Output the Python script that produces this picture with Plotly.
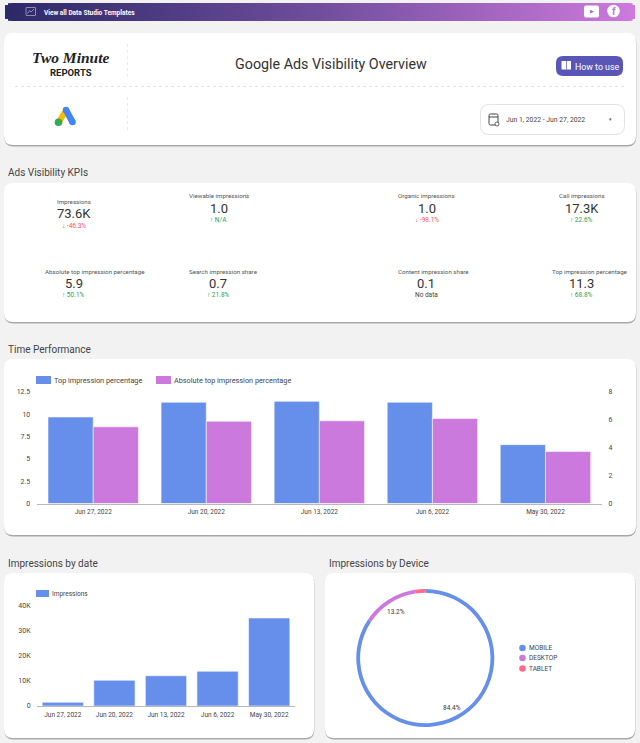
import math
import plotly.graph_objects as go

W, H = 640, 743

# ---------- data ----------
weeks = ["Jun 27, 2022", "Jun 20, 2022", "Jun 13, 2022", "Jun 6, 2022", "May 30, 2022"]
top_impression_pct = [9.7, 11.35, 11.45, 11.35, 6.6]
abs_top_impression_pct = [5.5, 5.9, 5.93, 6.1, 3.73]
impressions_by_week = [1500, 10300, 12100, 13900, 35200]
devices = ["MOBILE", "DESKTOP", "TABLET"]
device_share = [84.4, 13.2, 2.4]

kpi_names = ["Impressions", "Viewable impressions", "Organic impressions", "Call impressions",
             "Absolute top impression percentage", "Search impression share",
             "Content impression share", "Top impression percentage"]
kpi_values = ["73.6K", "1.0", "1.0", "17.3K", "5.9", "0.7", "0.1", "11.3"]
kpi_deltas = ["↓ -46.3%", "↑ N/A", "↓ -98.1%", "↑ 22.6%", "↑ 50.1%", "↑ 21.8%", "No data", "↑ 68.8%"]

left_ticks = [0, 2.5, 5, 7.5, 10, 12.5]
left_tick_text = ["0", "2.5", "5", "7.5", "10", "12.5"]
right_ticks = [0, 2, 4, 6, 8]
count_ticks = [0, 10000, 20000, 30000, 40000]
count_tick_text = ["0", "10K", "20K", "30K", "40K"]

# ---------- colours and fonts ----------
BLUE, PURPLE, PINK = "#668fec", "#cc79dd", "#ff6b8a"
RED, GREEN = "#f4506c", "#2f9e4f"
TXT = "#3c3c3c"
FONT = "Roboto"


def fx(x):
    return x / W


def fy(y):
    return 1 - y / H


shapes = []
notes = []


def rrect_path(x0, y0, x1, y1, r):
    a, b, c, d = fx(x0), fy(y0), fx(x1), fy(y1)
    rx, ry = r / W, r / H
    return (f"M{a + rx},{b} L{c - rx},{b} Q{c},{b} {c},{b - ry} L{c},{d + ry} Q{c},{d} {c - rx},{d} "
            f"L{a + rx},{d} Q{a},{d} {a},{d + ry} L{a},{b - ry} Q{a},{b} {a + rx},{b} Z")


def rrect(x0, y0, x1, y1, r, fill, line=None, lw=0):
    shapes.append(dict(type="path", xref="paper", yref="paper", path=rrect_path(x0, y0, x1, y1, r),
                       fillcolor=fill, line=dict(color=line or fill, width=lw), layer="below"))


def rect(x0, y0, x1, y1, fill, layer="below"):
    shapes.append(dict(type="rect", xref="paper", yref="paper", x0=fx(x0), x1=fx(x1), y0=fy(y0), y1=fy(y1),
                       fillcolor=fill, line=dict(width=0), layer=layer))


def circle(cx, cy, r, fill, line=None, lw=0, layer="below"):
    shapes.append(dict(type="circle", xref="paper", yref="paper", x0=fx(cx - r), x1=fx(cx + r),
                       y0=fy(cy + r), y1=fy(cy - r), fillcolor=fill,
                       line=dict(color=line or fill, width=lw), layer=layer))


def seg(x0, y0, x1, y1, color, lw=1, dash="solid"):
    shapes.append(dict(type="line", xref="paper", yref="paper", x0=fx(x0), x1=fx(x1), y0=fy(y0), y1=fy(y1),
                       line=dict(color=color, width=lw, dash=dash), layer="below"))


def text(x, y, s, size, color=TXT, anchor="center", font=FONT):
    notes.append(dict(xref="paper", yref="paper", x=fx(x), y=fy(y), text=s, showarrow=False,
                      xanchor=anchor, yanchor="middle", font=dict(family=font, size=size, color=color),
                      borderpad=0, borderwidth=0))


def card(x0, y0, x1, y1):
    rrect(x0 + 0.3, y0 + 1.5, x1 + 0.3, y1 + 1.5, 9, "#a9a9a9")
    rrect(x0, y0, x1, y1, 9, "#ffffff")


# ---------- banner with gradient ----------
stops = [(0.0, (44, 41, 104)), (0.5, (112, 78, 158)), (1.0, (207, 122, 222))]


def grad(t):
    for (t0, c0), (t1, c1) in zip(stops, stops[1:]):
        if t <= t1:
            k = (t - t0) / (t1 - t0)
            return "rgb(%d,%d,%d)" % tuple(round(a + (b - a) * k) for a, b in zip(c0, c1))
    return "rgb(207,122,222)"


bx0, bx1, by0, by1 = 5, 635, 3, 21
step, rad = 3, 6
x = bx0
while x < bx1:
    d = min(x + step / 2 - bx0, bx1 - x - step / 2)
    inset = rad - math.sqrt(max(rad ** 2 - (rad - d) ** 2, 0)) if d < rad else 0
    rect(x, by0 + inset, min(x + step + 0.6, bx1), by1 - inset, grad((x - bx0) / (bx1 - bx0)))
    x += step

rrect(26, 7.5, 35.5, 15.5, 0.5, "rgba(0,0,0,0)", "#cfcbe4", 0.6)
seg(27.5, 13.5, 29.5, 10.5, "#cfcbe4", 0.6)
seg(29.5, 10.5, 31, 12, "#cfcbe4", 0.6)
seg(31, 12, 34, 9, "#cfcbe4", 0.6)
text(44, 12.5, "<b>View all Data Studio Templates</b>", 6.5, "#ffffff", "left")
rrect(584, 5.5, 599, 17.5, 2, "#ffffff")
text(591.5, 11.5, "▶", 5, "#a46cc6")
circle(613.5, 11, 6.3, "#ffffff")
text(613.8, 11.5, "<b>f</b>", 10, "#c276d6")

# ---------- cards ----------
card(4, 33, 636, 145)
card(4, 183, 636, 322)
card(4, 359, 636, 535)
card(4, 573, 314, 738)
card(325, 573, 635, 738)

# ---------- header card ----------
seg(15, 86.5, 624, 86.5, "#dcdcdc", 0.8, "dot")
seg(127.5, 44, 127.5, 77, "#e6e6e6", 0.8, "dot")
seg(127.5, 97, 127.5, 130, "#e6e6e6", 0.8, "dot")
text(70.5, 57.5, "<b><i>Two Minute</i></b>", 15.5, "#222222", font="Liberation Serif")
text(71, 72.5, "<b>REPORTS</b>", 9.5, "#222222")
text(330.5, 63.5, "Google Ads Visibility Overview", 14.3, "#333333")
rrect(556, 56, 623, 76, 7, "#5a56b8")
rect(561.5, 61, 571, 69.5, "#ffffff")
rect(566, 61, 566.7, 69.5, "#5a56b8")
text(575, 66.5, "How to use", 8.8, "#ffffff", "left")

# Google Ads mark
seg(59, 122, 66, 110, "#fbbc04", 6)
seg(66, 110, 72.5, 122, "#4285f4", 6.5)
circle(72.5, 122, 3.3, "#4285f4")
circle(66, 110, 3.2, "#4285f4")
circle(58.5, 122.3, 3.8, "#34a853")

# date picker
rrect(480.5, 104.5, 624.5, 134.5, 9, "#ffffff", "#e2e2e2", 1)
rrect(489, 114, 498, 125, 1.5, "#ffffff", "#444444", 1)
seg(489, 117, 498, 117, "#444444", 1)
circle(497, 124, 2, "#ffffff", "#444444", 0.8)
text(545.5, 120, "Jun 1, 2022 - Jun 27, 2022", 6.8, "#444444")
text(610.5, 119.5, "▾", 5, "#555555")

# ---------- section titles ----------
text(8, 172.5, "Ads Visibility KPIs", 10, "#444444", "left")
text(8, 349.5, "Time Performance", 10, "#444444", "left")
text(8, 563.5, "Impressions by date", 10, "#444444", "left")
text(329, 563.5, "Impressions by Device", 10, "#444444", "left")

# ---------- KPIs ----------
label_x = [73.5, 219, 426.5, 581.6, 95, 223, 433, 590]
value_x = [73.5, 218.5, 426.5, 581.6, 73.5, 218, 426, 581.6]
row_y = [(202, 214, 226), (196.5, 208, 220), (196.5, 208, 220), (196.5, 208, 220),
         (272, 283.5, 295), (272, 283.5, 295), (272, 283.5, 295), (272, 283.5, 295)]
for name, val, dl, lx, vx, (ly, vy, dy) in zip(kpi_names, kpi_values, kpi_deltas, label_x, value_x, row_y):
    text(lx, ly, name, 6.2, "#555555")
    text(vx, vy, val, 13, "#333333")
    col = RED if dl.startswith("↓") else GREEN if dl.startswith("↑") else "#444444"
    text(vx, dy, dl, 6.5, col)

# ---------- legends ----------
rect(36, 376, 51, 384, BLUE)
text(54, 380.5, "Top impression percentage", 7.3, "#444444", "left")
rect(156, 376, 171, 384, PURPLE)
text(174, 380.5, "Absolute top impression percentage", 7.3, "#444444", "left")
rect(36, 590, 49, 597, BLUE)
text(52, 593.5, "Impressions", 6.5, "#444444", "left")
for dev, col, ly in zip(devices, [BLUE, PURPLE, PINK], [648, 658, 668.5]):
    circle(522.5, ly, 3.3, col)
    text(529, ly, dev, 6.5, "#444444", "left")

# ---------- pie labels ----------
text(396, 612, f"{device_share[1]}%", 6.5, "#333333")
text(452, 708, f"{device_share[0]}%", 6.5, "#333333")

# ---------- traces ----------
fig = go.Figure()
bar_line = dict(color="rgba(255,255,255,0.55)", width=1)
fig.add_trace(go.Bar(x=list(range(5)), y=top_impression_pct, name="Top impression percentage",
                     marker=dict(color=BLUE, line=bar_line), width=0.4, offset=-0.4,
                     xaxis="x", yaxis="y", showlegend=False))
fig.add_trace(go.Bar(x=list(range(5)), y=abs_top_impression_pct, name="Absolute top impression percentage",
                     marker=dict(color=PURPLE, line=bar_line), width=0.4, offset=0,
                     xaxis="x", yaxis="y2", showlegend=False))
fig.add_trace(go.Bar(x=list(range(5)), y=impressions_by_week, name="Impressions",
                     marker=dict(color=BLUE, line=bar_line), width=0.8,
                     xaxis="x2", yaxis="y3", showlegend=False))
cx, cy, rr = 425.3, 658, 69
fig.add_trace(go.Pie(labels=devices, values=device_share, hole=0.945, sort=False, direction="clockwise",
                     rotation=0, textinfo="none", showlegend=False, automargin=False,
                     marker=dict(colors=[BLUE, PURPLE, PINK], line=dict(width=0)),
                     domain=dict(x=[fx(cx - rr), fx(cx + rr)], y=[fy(cy + rr), fy(cy - rr)])))

tick = dict(family=FONT, size=7, color="#444444")
xtick = dict(family=FONT, size=6.5, color="#444444")


def yax(**kw):
    return dict(showgrid=False, zeroline=False, showline=False, ticks="outside", ticklen=4, automargin=False,
                tickcolor="rgba(0,0,0,0)", tickfont=tick, **kw)


def xax(**kw):
    return dict(type="linear", range=[-0.5, 4.5], tickmode="array", tickvals=list(range(5)), ticktext=weeks,
                showgrid=False, zeroline=False, showline=True, linecolor="#b8b8b8", linewidth=1, automargin=False,
                ticks="outside", ticklen=2, tickcolor="rgba(0,0,0,0)", tickfont=xtick, **kw)


fig.update_layout(
    width=W, height=H, autosize=False, margin=dict(l=0, r=0, t=0, b=0, pad=0), template="none",
    paper_bgcolor="#f2f2f2", plot_bgcolor="rgba(0,0,0,0)", showlegend=False,
    barmode="overlay", shapes=shapes, annotations=notes,
    xaxis=xax(domain=[fx(36.7), fx(602)], anchor="y"),
    yaxis=yax(domain=[fy(503.5), fy(392)], range=[0, 12.5], tickmode="array", tickvals=left_ticks,
              ticktext=left_tick_text, anchor="x"),
    yaxis2=yax(domain=[fy(503.5), fy(392)], range=[0, 8], tickmode="array", tickvals=right_ticks,
               overlaying="y", side="right", anchor="x"),
    xaxis2=xax(domain=[fx(37), fx(295)], anchor="y3"),
    yaxis3=yax(domain=[fy(706), fy(606)], range=[0, 40000], tickmode="array", tickvals=count_ticks,
               ticktext=count_tick_text, anchor="x2"),
)

fig.write_html("out.html", config={"displayModeBar": False},
               post_script="document.body.style.margin='0';document.body.style.overflow='hidden';")
